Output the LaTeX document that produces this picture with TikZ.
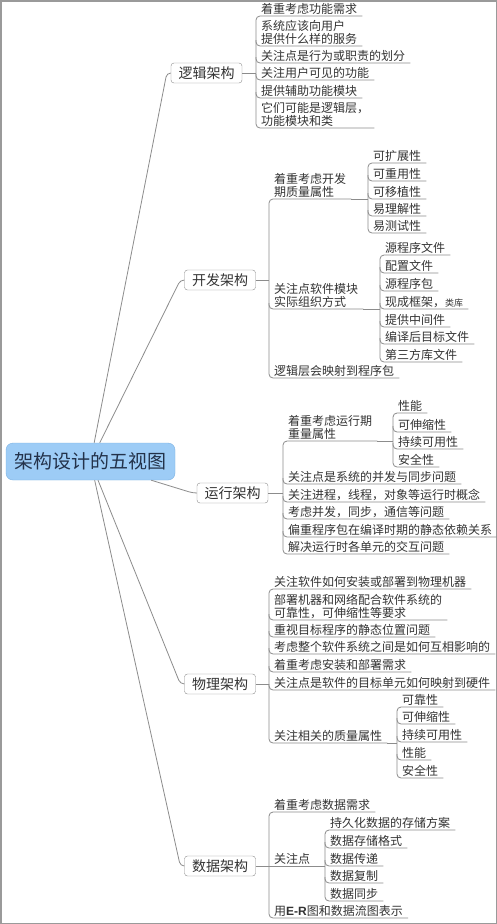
\documentclass[tikz,border=0pt]{standalone}
\usepackage{fontspec}
\newfontfamily\cjk{Noto Sans CJK SC}
\newfontfamily\latin{Liberation Sans}
\usetikzlibrary{calc}
\definecolor{linegray}{HTML}{8C8C8C}
\definecolor{textgray}{HTML}{333333}
\definecolor{rootblue}{HTML}{9DCCF6}
\definecolor{rootedge}{HTML}{7DB2E2}
\definecolor{roottext}{HTML}{23324A}
\definecolor{framegray}{HTML}{9A9A9A}

\begin{document}
\begin{tikzpicture}[x=1pt,y=-1pt]

\tikzset{
  RootStyle/.style = { rectangle, rounded corners=7pt, draw=rootedge, fill=rootblue,
                       minimum width=169pt, minimum height=37pt, inner sep=0pt,
                       text=roottext, font=\cjk\fontsize{19}{20}\selectfont },
  BranchStyle/.style = { rectangle, rounded corners=3pt, draw=linegray, fill=white,
                         minimum width=71pt, minimum height=20pt, inner sep=0pt,
                         text=textgray, font=\cjk\fontsize{14}{15}\selectfont },
  LeafStyle/.style = { anchor=south west, inner xsep=5pt, inner ysep=1.5pt, align=left,
                       text=textgray, font=\cjk\fontsize{12}{13}\selectfont },
  LinkStyle/.style = { draw=linegray, line width=0.8pt },
  BracketStyle/.style = { LinkStyle, rounded corners=4pt } }

  \useasboundingbox (0,0) rectangle (497,924);
  \fill[white] (0,0) rectangle (497,924);
  \draw[framegray, line width=1.5pt] (0.75,0.75) rectangle (496.25,923.25);

  \node[RootStyle] (root) at (90.5,461.5) {架构设计的五视图};

  \node[BranchStyle] (logic) at (206.5,73) {逻辑架构};
  \node[BranchStyle] (dev) at (220,280) {开发架构};
  \node[BranchStyle] (run) at (232.5,493) {运行架构};
  \node[BranchStyle] (phys) at (220,684) {物理架构};
  \node[BranchStyle] (data) at (220,866) {数据架构};

  \foreach \b in {logic,dev,run,phys,data}
    \draw[LinkStyle, rounded corners=4pt] (root) -- ($(\b.west)+(-4,0)$) -- (\b.west);

  % logic view
  \node[LeafStyle] (l1) at (256,16) {着重考虑功能需求};
  \node[LeafStyle] (l2) at (256,46) {系统应该向用户\\提供什么样的服务};
  \node[LeafStyle] (l3) at (256,63) {关注点是行为或职责的划分};
  \node[LeafStyle] (l4) at (256,80) {关注用户可见的功能};
  \node[LeafStyle] (l5) at (256,98) {提供辅助功能模块};
  \node[LeafStyle] (l6) at (256,128) {它们可能是逻辑层，\\功能模块和类};

  \draw[LinkStyle] (logic.east) -- (logic.east -| l1.south west);
  \draw[BracketStyle] (l1.south east) -- (l1.south west) -- (l6.south west) -- (l6.south east);
  \foreach \c in {l2,l3,l4,l5}
    \draw[BracketStyle] ($(\c.south west)+(0,-6)$) -- (\c.south west) -- (\c.south east);

  % development view
  \node[LeafStyle] (d1) at (269,199) {着重考虑开发\\期质量属性};
  \node[LeafStyle] (d2) at (269,309) {关注点软件模块\\实际组织方式};
  \node[LeafStyle] (d3) at (269,378) {逻辑层会映射到程序包};

  \node[LeafStyle] (d11) at (368,163) {可扩展性};
  \node[LeafStyle] (d12) at (368,181) {可重用性};
  \node[LeafStyle] (d13) at (368,199) {可移植性};
  \node[LeafStyle] (d14) at (368,216) {易理解性};
  \node[LeafStyle] (d15) at (368,233) {易测试性};

  \node[LeafStyle] (d21) at (380,255) {源程序文件};
  \node[LeafStyle] (d22) at (380,273) {配置文件};
  \node[LeafStyle] (d23) at (380,291) {源程序包};
  \node[LeafStyle] (d24) at (380,309) {现成框架，{\fontsize{9}{10}\selectfont 类库}};
  \node[LeafStyle] (d25) at (380,327) {提供中间件};
  \node[LeafStyle] (d26) at (380,344) {编译后目标文件};
  \node[LeafStyle] (d27) at (380,362) {第三方库文件};

  \draw[LinkStyle] (dev.east) -- (dev.east -| d1.south west);
  \draw[BracketStyle] (d1.south east) -- (d1.south west) -- (d3.south west) -- (d3.south east);
  \draw[BracketStyle] ($(d2.south west)+(0,-6)$) -- (d2.south west) -- (d2.south east);
  \draw[LinkStyle] (d1.south east) -- (d1.south east -| d11.south west);
  \draw[LinkStyle] (d2.south east) -- (d2.south east -| d21.south west);

  \draw[BracketStyle] (d11.south east) -- (d11.south west) -- (d15.south west) -- (d15.south east);
  \foreach \c in {d12,d13,d14}
    \draw[BracketStyle] ($(\c.south west)+(0,-6)$) -- (\c.south west) -- (\c.south east);
  \draw[BracketStyle] (d21.south east) -- (d21.south west) -- (d27.south west) -- (d27.south east);
  \foreach \c in {d22,d23,d24,d25,d26}
    \draw[BracketStyle] ($(\c.south west)+(0,-6)$) -- (\c.south west) -- (\c.south east);

  % process view
  \node[LeafStyle] (r1) at (283,441) {着重考虑运行期\\重量属性};
  \node[LeafStyle] (r2) at (283,484) {关注点是系统的并发与同步问题};
  \node[LeafStyle] (r3) at (283,502) {关注进程，线程，对象等运行时概念};
  \node[LeafStyle] (r4) at (283,519) {考虑并发，同步，通信等问题};
  \node[LeafStyle] (r5) at (283,537) {偏重程序包在编译时期的静态依赖关系};
  \node[LeafStyle] (r6) at (283,554) {解决运行时各单元的交互问题};

  \node[LeafStyle] (r11) at (393,413) {性能};
  \node[LeafStyle] (r12) at (393,432) {可伸缩性};
  \node[LeafStyle] (r13) at (393,449) {持续可用性};
  \node[LeafStyle] (r14) at (393,467) {安全性};

  \draw[LinkStyle] (run.east) -- (run.east -| r1.south west);
  \draw[BracketStyle] (r1.south east) -- (r1.south west) -- (r6.south west) -- (r6.south east);
  \foreach \c in {r2,r3,r4,r5}
    \draw[BracketStyle] ($(\c.south west)+(0,-6)$) -- (\c.south west) -- (\c.south east);
  \draw[LinkStyle] (r1.south east) -- (r1.south east -| r11.south west);
  \draw[BracketStyle] (r11.south east) -- (r11.south west) -- (r14.south west) -- (r14.south east);
  \foreach \c in {r12,r13}
    \draw[BracketStyle] ($(\c.south west)+(0,-6)$) -- (\c.south west) -- (\c.south east);

  % physical view
  \node[LeafStyle] (p1) at (269,589) {关注软件如何安装或部署到物理机器};
  \node[LeafStyle] (p2) at (269,620) {部署机器和网络配合软件系统的\\可靠性，可伸缩性等要求};
  \node[LeafStyle] (p3) at (269,637) {重视目标程序的静态位置问题};
  \node[LeafStyle] (p4) at (269,654) {考虑整个软件系统之间是如何互相影响的};
  \node[LeafStyle] (p5) at (269,672) {着重考虑安装和部署需求};
  \node[LeafStyle] (p6) at (269,690) {关注点是软件的目标单元如何映射到硬件};
  \node[LeafStyle] (p7) at (269,743) {关注相关的质量属性};

  \node[LeafStyle] (p71) at (397,707) {可靠性};
  \node[LeafStyle] (p72) at (397,724) {可伸缩性};
  \node[LeafStyle] (p73) at (397,742) {持续可用性};
  \node[LeafStyle] (p74) at (397,760) {性能};
  \node[LeafStyle] (p75) at (397,778) {安全性};

  \draw[LinkStyle] (phys.east) -- (phys.east -| p1.south west);
  \draw[BracketStyle] (p1.south east) -- (p1.south west) -- (p7.south west) -- (p7.south east);
  \foreach \c in {p2,p3,p4,p5,p6}
    \draw[BracketStyle] ($(\c.south west)+(0,-6)$) -- (\c.south west) -- (\c.south east);
  \draw[LinkStyle] (p7.south east) -- (p7.south east -| p71.south west);
  \draw[BracketStyle] (p71.south east) -- (p71.south west) -- (p75.south west) -- (p75.south east);
  \foreach \c in {p72,p73,p74}
    \draw[BracketStyle] ($(\c.south west)+(0,-6)$) -- (\c.south west) -- (\c.south east);

  % data view
  \node[LeafStyle] (a1) at (269,812) {着重考虑数据需求};
  \node[LeafStyle] (a2) at (269,866) {关注点};
  \node[LeafStyle] (a3) at (269,918) {用{\latin\bfseries E-R}图和数据流图表示};

  \node[LeafStyle] (a21) at (325,830) {持久化数据的存储方案};
  \node[LeafStyle] (a22) at (325,848) {数据存储格式};
  \node[LeafStyle] (a23) at (325,866) {数据传递};
  \node[LeafStyle] (a24) at (325,883) {数据复制};
  \node[LeafStyle] (a25) at (325,901) {数据同步};

  \draw[LinkStyle] (data.east) -- (data.east -| a1.south west);
  \draw[BracketStyle] (a1.south east) -- (a1.south west) -- (a3.south west) -- (a3.south east);
  \draw[LinkStyle] (a2.south west) -- (a2.south east) -- (a2.south east -| a21.south west);
  \draw[BracketStyle] (a21.south east) -- (a21.south west) -- (a25.south west) -- (a25.south east);
  \foreach \c in {a22,a23,a24}
    \draw[BracketStyle] ($(\c.south west)+(0,-6)$) -- (\c.south west) -- (\c.south east);

\end{tikzpicture}
\end{document}
